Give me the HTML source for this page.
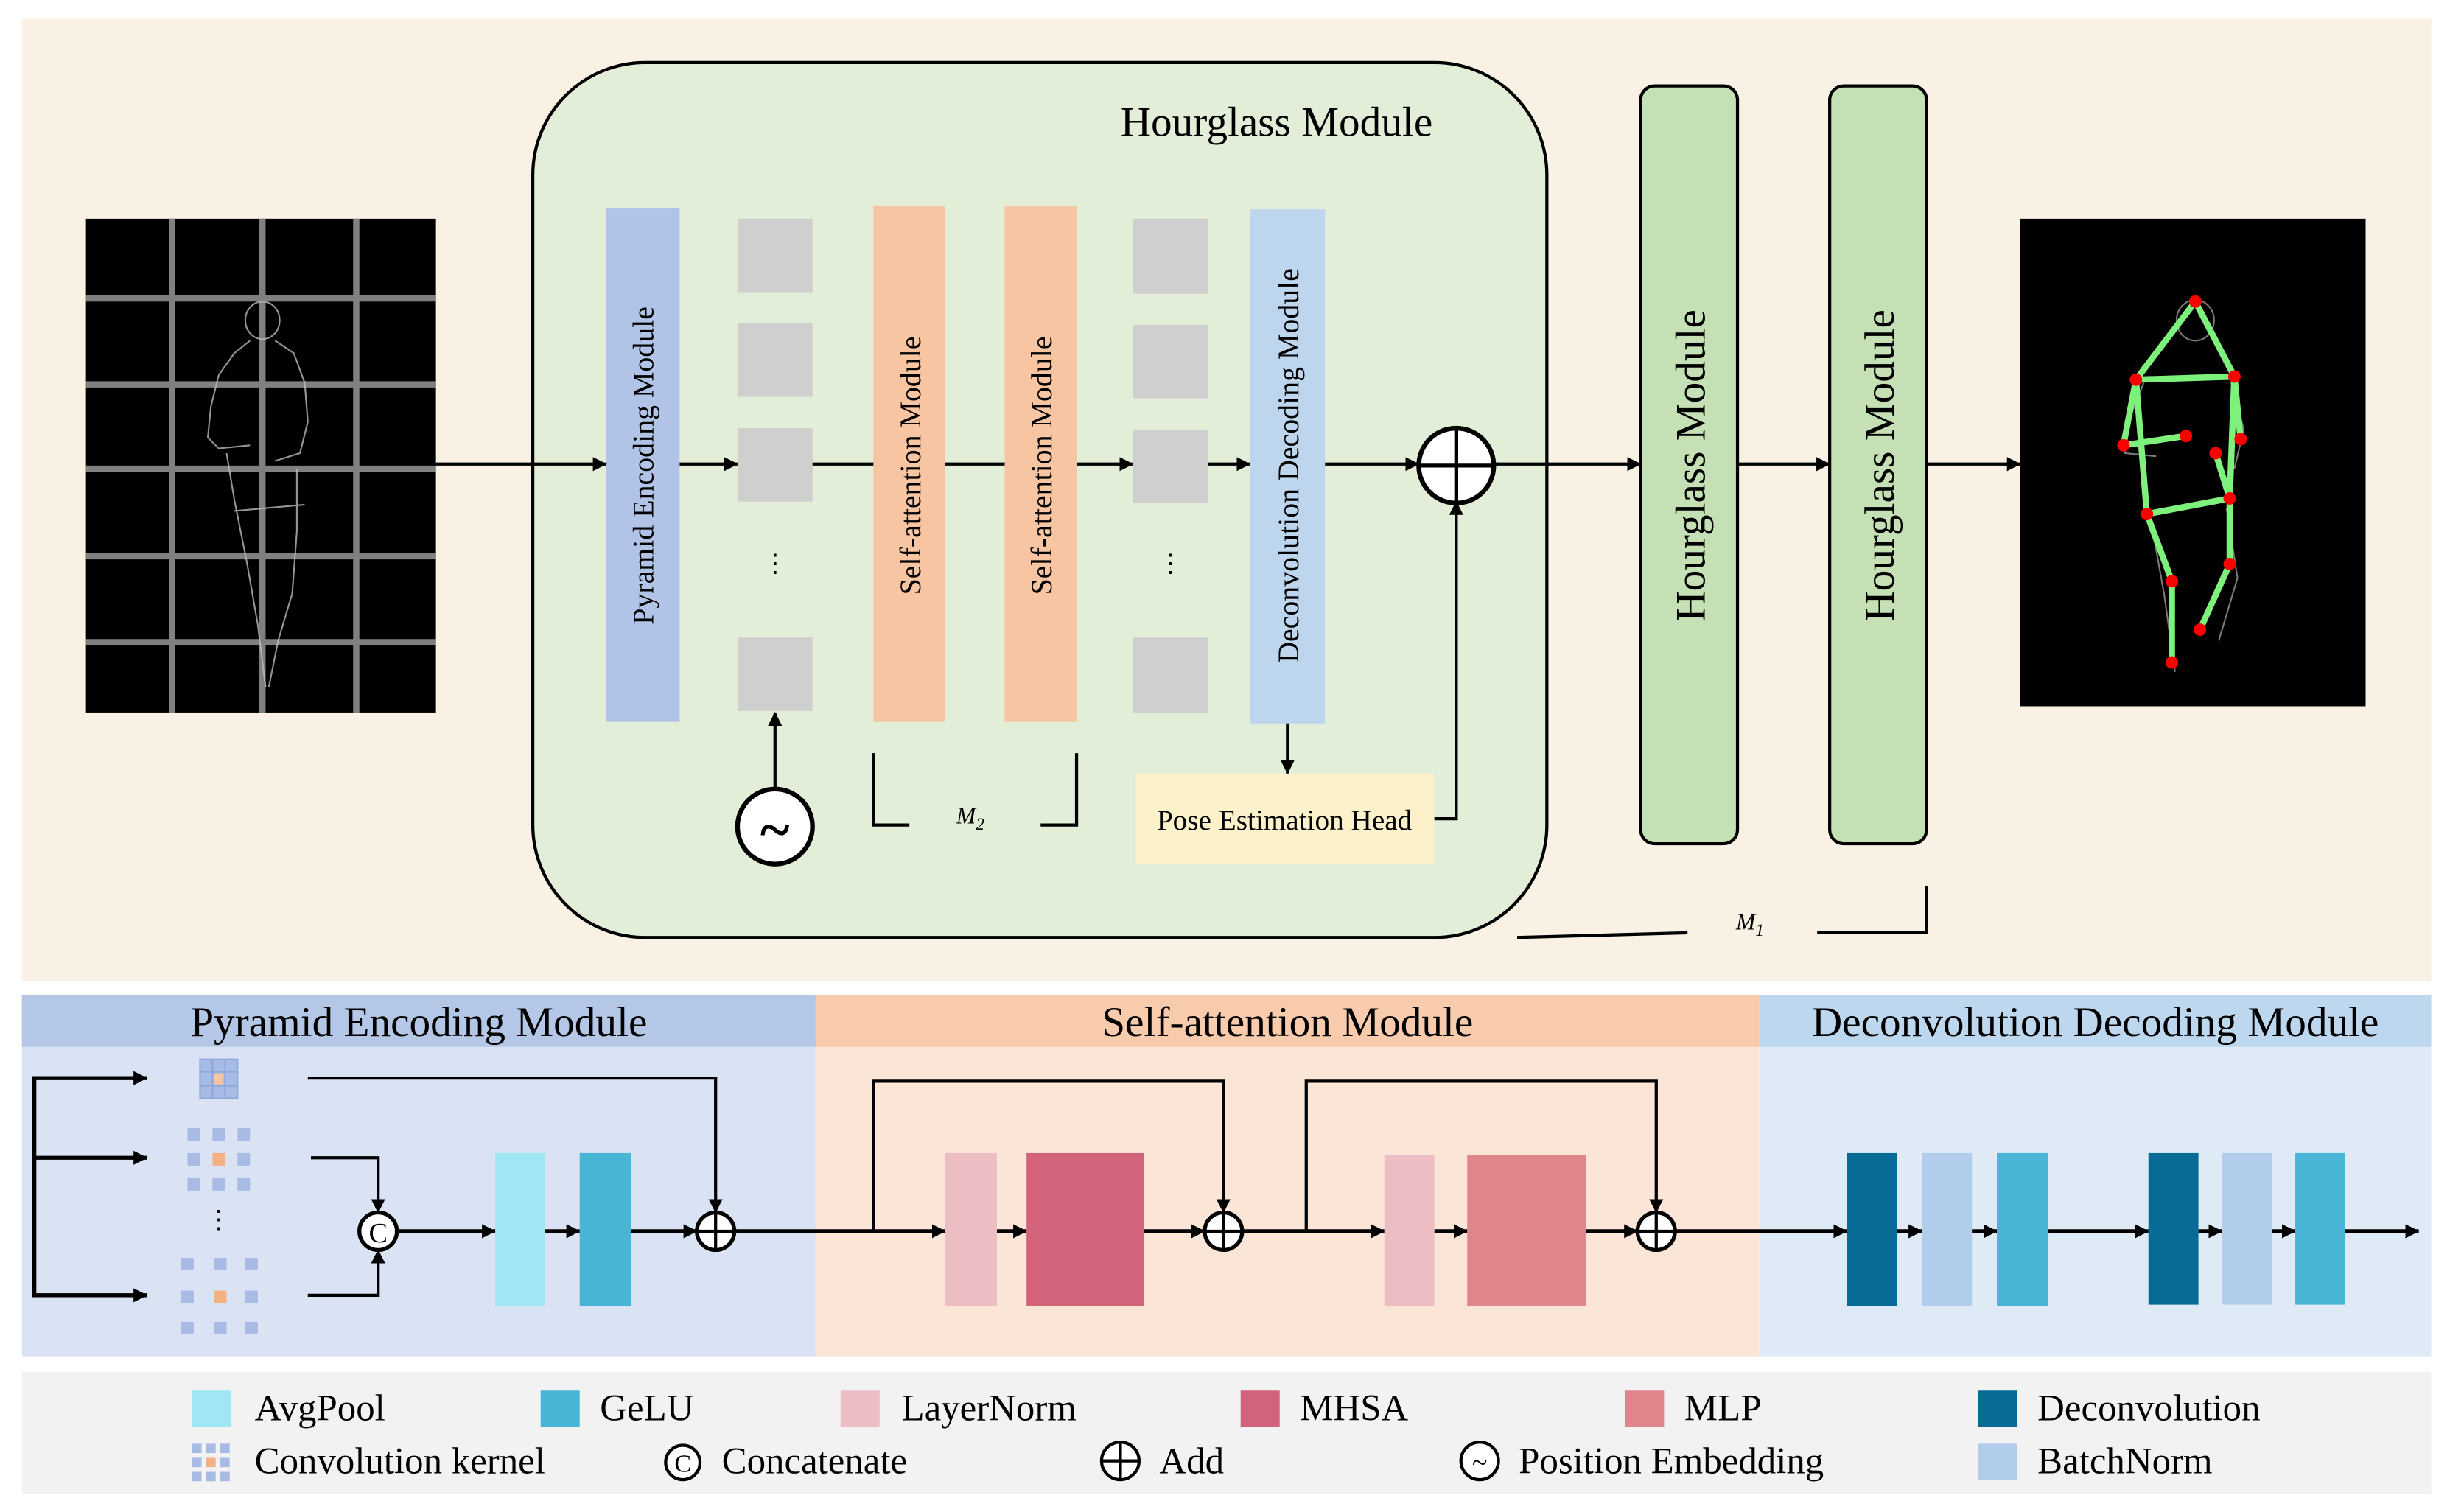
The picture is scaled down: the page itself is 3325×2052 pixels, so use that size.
<!DOCTYPE html>
<html><head><meta charset="utf-8"><style>
html,body{margin:0;padding:0;background:#fff;}
svg{display:block;}
text{font-family:"Liberation Serif",serif;fill:#000;}
</style></head><body>
<svg width="3325" height="2052" viewBox="0 0 1568 967.7" preserveAspectRatio="none" xmlns="http://www.w3.org/2000/svg">
<defs>
<marker id="a" viewBox="0 0 10 10" refX="9.5" refY="5" markerWidth="9" markerHeight="9" orient="auto" markerUnits="userSpaceOnUse"><path d="M0,0 L10,5 L0,10 z" fill="#000"/></marker>
</defs>
<rect width="1568" height="968" fill="#fff"/>
<rect x="14" y="12" width="1542" height="616" fill="#f9f1e4"/>
<rect x="55" y="140" width="224" height="316" fill="#000"/>
<g stroke="#808080" stroke-width="4">
<line x1="110" y1="140" x2="110" y2="456"/><line x1="168" y1="140" x2="168" y2="456"/><line x1="228" y1="140" x2="228" y2="456"/>
<line x1="55" y1="191" x2="279" y2="191"/><line x1="55" y1="246" x2="279" y2="246"/><line x1="55" y1="300" x2="279" y2="300"/><line x1="55" y1="356" x2="279" y2="356"/><line x1="55" y1="411" x2="279" y2="411"/>
</g>
<g stroke="#bbb" stroke-width="1" fill="none" opacity="0.8">
<ellipse cx="168" cy="205" rx="11" ry="12"/>
<path d="M160,218 L150,226 L140,240 L135,260 L133,280 L140,287 L160,285"/>
<path d="M176,218 L188,226 L195,245 L197,270 L192,290 L176,295"/>
<path d="M145,290 L150,320 L158,360 L165,400 L170,440"/>
<path d="M190,300 L190,340 L187,380 L178,410 L172,440"/>
<path d="M150,327 L195,323"/>
</g>
<rect x="341" y="40" width="649" height="560" rx="72" fill="#e2eed8" stroke="#000" stroke-width="2"/>
<text x="817" y="87" font-size="27" text-anchor="middle">Hourglass Module</text>
<rect x="388" y="133" width="47" height="329" fill="#b1c4e7"/>
<text transform="translate(418,298) rotate(-90)" font-size="18.8" text-anchor="middle">Pyramid Encoding Module</text>
<g fill="#d0cfd0">
<rect x="472" y="140" width="48" height="47"/><rect x="472" y="207" width="48" height="47"/><rect x="472" y="274" width="48" height="47"/><rect x="472" y="408" width="48" height="47"/>
<rect x="725" y="140" width="48" height="48"/><rect x="725" y="208" width="48" height="47"/><rect x="725" y="275" width="48" height="47"/><rect x="725" y="408" width="48" height="48"/>
</g>
<text x="496" y="366" font-size="16" text-anchor="middle">⋮</text>
<text x="749" y="366" font-size="16" text-anchor="middle">⋮</text>
<rect x="559" y="132" width="46" height="330" fill="#f8c5a3"/>
<rect x="643" y="132" width="46" height="330" fill="#f8c5a3"/>
<text transform="translate(589,298) rotate(-90)" font-size="18.8" text-anchor="middle">Self-attention Module</text>
<text transform="translate(673,298) rotate(-90)" font-size="18.8" text-anchor="middle">Self-attention Module</text>
<rect x="800" y="134" width="48" height="329" fill="#bdd6ee"/>
<text transform="translate(831,298) rotate(-90)" font-size="18.8" text-anchor="middle">Deconvolution Decoding Module</text>
<rect x="727" y="495" width="191" height="58" fill="#fdf1cc"/>
<text x="822" y="531" font-size="18.5" text-anchor="middle">Pose Estimation Head</text>
<g stroke="#000" stroke-width="2" fill="none">
<line x1="279" y1="297" x2="388" y2="297" marker-end="url(#a)"/>
<line x1="435" y1="297" x2="472" y2="297" marker-end="url(#a)"/>
<line x1="520" y1="297" x2="559" y2="297"/>
<line x1="605" y1="297" x2="643" y2="297"/>
<line x1="689" y1="297" x2="725" y2="297" marker-end="url(#a)"/>
<line x1="773" y1="297" x2="800" y2="297" marker-end="url(#a)"/>
<line x1="848" y1="297" x2="908" y2="297" marker-end="url(#a)"/>
<line x1="956" y1="297" x2="1050" y2="297" marker-end="url(#a)"/>
<line x1="1112" y1="297" x2="1171" y2="297" marker-end="url(#a)"/>
<line x1="1233" y1="297" x2="1293" y2="297" marker-end="url(#a)"/>
<line x1="496" y1="505" x2="496" y2="456" marker-end="url(#a)"/>
<line x1="824" y1="463" x2="824" y2="495" marker-end="url(#a)"/>
<polyline points="918,524 932,524 932,321" marker-end="url(#a)"/>
<polyline points="559,482 559,528 582,528"/>
<polyline points="689,482 689,528 666,528"/>
<polyline points="971,600 1080,597"/>
<polyline points="1163,597 1233,597 1233,567"/>
</g>
<circle cx="932" cy="298" r="24" fill="#fff" stroke="#000" stroke-width="3"/>
<line x1="908" y1="298" x2="956" y2="298" stroke="#000" stroke-width="2.5"/><line x1="932" y1="274" x2="932" y2="322" stroke="#000" stroke-width="2.5"/>
<circle cx="496" cy="529" r="24" fill="#fff" stroke="#000" stroke-width="3"/>
<text x="496" y="543" font-size="36" text-anchor="middle" font-weight="bold">~</text>
<text x="612" y="527" font-size="15" font-style="italic">M<tspan font-size="11" dy="4">2</tspan></text>
<text x="1111" y="595" font-size="15" font-style="italic">M<tspan font-size="11" dy="4">1</tspan></text>
<rect x="1050" y="55" width="62" height="485" rx="9" fill="#c5e0b4" stroke="#000" stroke-width="2"/>
<rect x="1171" y="55" width="62" height="485" rx="9" fill="#c5e0b4" stroke="#000" stroke-width="2"/>
<text transform="translate(1091,298) rotate(-90)" font-size="27" text-anchor="middle">Hourglass Module</text>
<text transform="translate(1212,298) rotate(-90)" font-size="27" text-anchor="middle">Hourglass Module</text>
<rect x="1293" y="140" width="221" height="312" fill="#000"/>
<g stroke="#999" stroke-width="1" fill="none" opacity="0.8">
<ellipse cx="1405" cy="205" rx="12" ry="13"/>
<path d="M1372,245 L1362,270 L1360,290 L1380,292"/>
<path d="M1428,245 L1436,275 L1430,300"/>
<path d="M1376,330 L1385,380 L1392,430"/><path d="M1425,325 L1432,370 L1420,410"/>
</g>
<g stroke="#7ef07c" stroke-width="4" fill="none" stroke-linecap="round">
<polyline points="1367,243 1405,193 1430,241 1367,243"/>
<polyline points="1367,243 1359,285 1399,279"/>
<polyline points="1430,241 1434,281"/>
<polyline points="1430,241 1427,319 1374,329 1367,243"/>
<polyline points="1427,319 1418,290"/>
<polyline points="1374,329 1390,372 1390,424"/>
<polyline points="1427,319 1427,361 1408,403"/>
</g>
<g fill="#f00">
<circle cx="1405" cy="193" r="4"/><circle cx="1367" cy="243" r="4"/><circle cx="1430" cy="241" r="4"/><circle cx="1359" cy="285" r="4"/><circle cx="1434" cy="281" r="4"/><circle cx="1399" cy="279" r="4"/><circle cx="1418" cy="290" r="4"/><circle cx="1374" cy="329" r="4"/><circle cx="1427" cy="319" r="4"/><circle cx="1390" cy="372" r="4"/><circle cx="1427" cy="361" r="4"/><circle cx="1390" cy="424" r="4"/><circle cx="1408" cy="403" r="4"/>
</g>
<rect x="14" y="637" width="508" height="231" fill="#dae3f3"/>
<rect x="14" y="637" width="508" height="33" fill="#b4c7e7"/>
<rect x="522" y="637" width="604" height="231" fill="#fbe5d6"/>
<rect x="522" y="637" width="604" height="33" fill="#f8cbad"/>
<rect x="1126" y="637" width="430" height="231" fill="#deebf7"/>
<rect x="1126" y="637" width="430" height="33" fill="#bdd7ee"/>
<text x="268" y="663" font-size="27" text-anchor="middle">Pyramid Encoding Module</text>
<text x="824" y="663" font-size="27" text-anchor="middle">Self-attention Module</text>
<text x="1341" y="663" font-size="27" text-anchor="middle">Deconvolution Decoding Module</text>
<g fill="#a7bbe4" stroke="#8ea8dc" stroke-width="1">
<rect x="128" y="678" width="24" height="25"/>
</g>
<g stroke="#8ea8dc" stroke-width="1"><line x1="136" y1="678" x2="136" y2="703"/><line x1="144" y1="678" x2="144" y2="703"/><line x1="128" y1="686" x2="152" y2="686"/><line x1="128" y1="695" x2="152" y2="695"/></g>
<rect x="137" y="687" width="6" height="7" fill="#f8c5a3"/>
<g fill="#a7bbe4">
<rect x="120" y="722" width="8" height="8"/><rect x="136" y="722" width="8" height="8"/><rect x="152" y="722" width="8" height="8"/>
<rect x="120" y="738" width="8" height="8"/><rect x="152" y="738" width="8" height="8"/>
<rect x="120" y="754" width="8" height="8"/><rect x="136" y="754" width="8" height="8"/><rect x="152" y="754" width="8" height="8"/>
<rect x="116" y="805" width="8" height="8"/><rect x="137" y="805" width="8" height="8"/><rect x="157" y="805" width="8" height="8"/>
<rect x="116" y="826" width="8" height="8"/><rect x="157" y="826" width="8" height="8"/>
<rect x="116" y="846" width="8" height="8"/><rect x="137" y="846" width="8" height="8"/><rect x="157" y="846" width="8" height="8"/>
</g>
<rect x="136" y="738" width="8" height="8" fill="#f4b183"/><rect x="137" y="826" width="8" height="8" fill="#f4b183"/>
<text x="140" y="786" font-size="16" text-anchor="middle">⋮</text>
<g stroke="#000" stroke-width="2.5" fill="none">
<polyline points="94,690 22,690 22,829 94,829"/>
<line x1="22" y1="690" x2="94" y2="690" marker-end="url(#a)"/>
<line x1="22" y1="741" x2="94" y2="741" marker-end="url(#a)"/>
<line x1="22" y1="829" x2="94" y2="829" marker-end="url(#a)"/>
<polyline points="197,690 458,690 458,776" stroke-width="2" marker-end="url(#a)"/>
<polyline points="199,741 242,741 242,776" stroke-width="2" marker-end="url(#a)"/>
<polyline points="197,829 242,829 242,800" stroke-width="2" marker-end="url(#a)"/>
<line x1="254" y1="788" x2="317" y2="788" marker-end="url(#a)"/>
<line x1="349" y1="788" x2="371" y2="788" marker-end="url(#a)"/>
<line x1="404" y1="788" x2="446" y2="788" marker-end="url(#a)"/>
<line x1="470" y1="788" x2="605" y2="788" marker-end="url(#a)"/>
<line x1="638" y1="788" x2="657" y2="788" marker-end="url(#a)"/>
<line x1="732" y1="788" x2="771" y2="788" marker-end="url(#a)"/>
<line x1="795" y1="788" x2="886" y2="788" marker-end="url(#a)"/>
<line x1="918" y1="788" x2="939" y2="788" marker-end="url(#a)"/>
<line x1="1015" y1="788" x2="1048" y2="788" marker-end="url(#a)"/>
<line x1="1072" y1="788" x2="1182" y2="788" marker-end="url(#a)"/>
<line x1="1214" y1="788" x2="1230" y2="788" marker-end="url(#a)"/>
<line x1="1262" y1="788" x2="1278" y2="788" marker-end="url(#a)"/>
<line x1="1311" y1="788" x2="1375" y2="788" marker-end="url(#a)"/>
<line x1="1407" y1="788" x2="1422" y2="788" marker-end="url(#a)"/>
<line x1="1454" y1="788" x2="1469" y2="788" marker-end="url(#a)"/>
<line x1="1501" y1="788" x2="1548" y2="788" marker-end="url(#a)"/>
<polyline points="559,788 559,692 783,692 783,776" stroke-width="2" marker-end="url(#a)"/>
<polyline points="836,788 836,692 1060,692 1060,776" stroke-width="2" marker-end="url(#a)"/>
</g>
<circle cx="242" cy="788" r="12" fill="#fff" stroke="#000" stroke-width="2.5"/>
<text x="242" y="795" font-size="18" text-anchor="middle" font-family="Liberation Sans">C</text>
<g fill="#fff" stroke="#000" stroke-width="2.5">
<circle cx="458" cy="788" r="12"/><circle cx="783" cy="788" r="12"/><circle cx="1060" cy="788" r="12"/>
</g>
<g stroke="#000" stroke-width="2">
<line x1="446" y1="788" x2="470" y2="788"/><line x1="458" y1="776" x2="458" y2="800"/>
<line x1="771" y1="788" x2="795" y2="788"/><line x1="783" y1="776" x2="783" y2="800"/>
<line x1="1048" y1="788" x2="1072" y2="788"/><line x1="1060" y1="776" x2="1060" y2="800"/>
</g>
<rect x="317" y="738" width="32" height="98" fill="#a0e6f4"/>
<rect x="371" y="738" width="33" height="98" fill="#48b4d6"/>
<rect x="605" y="738" width="33" height="98" fill="#ecbec4"/>
<rect x="657" y="738" width="75" height="98" fill="#d2637b"/>
<rect x="886" y="739" width="32" height="97" fill="#ecbec4"/>
<rect x="939" y="739" width="76" height="97" fill="#df868c"/>
<rect x="1182" y="738" width="32" height="98" fill="#066c96"/>
<rect x="1230" y="738" width="32" height="98" fill="#b2cceb"/>
<rect x="1278" y="738" width="33" height="98" fill="#48b4d6"/>
<rect x="1375" y="738" width="32" height="97" fill="#066c96"/>
<rect x="1422" y="738" width="32" height="97" fill="#b2cceb"/>
<rect x="1469" y="738" width="32" height="97" fill="#48b4d6"/>
<rect x="14" y="878" width="1542" height="78" fill="#f2f2f2"/>
<g font-size="24">
<rect x="123" y="890" width="25" height="23" fill="#a0e6f4"/><text x="163" y="909">AvgPool</text>
<rect x="346" y="890" width="25" height="23" fill="#48b4d6"/><text x="384" y="909">GeLU</text>
<rect x="538" y="890" width="25" height="23" fill="#ecbec4"/><text x="577" y="909">LayerNorm</text>
<rect x="794" y="890" width="25" height="23" fill="#d2637b"/><text x="832" y="909">MHSA</text>
<rect x="1040" y="890" width="25" height="23" fill="#df868c"/><text x="1078" y="909">MLP</text>
<rect x="1266" y="890" width="25" height="23" fill="#066c96"/><text x="1304" y="909">Deconvolution</text>
<g fill="#a7bbe4"><rect x="123" y="924" width="6" height="6"/><rect x="132" y="924" width="6" height="6"/><rect x="141" y="924" width="6" height="6"/><rect x="123" y="933" width="6" height="6"/><rect x="141" y="933" width="6" height="6"/><rect x="123" y="942" width="6" height="6"/><rect x="132" y="942" width="6" height="6"/><rect x="141" y="942" width="6" height="6"/></g><rect x="132" y="933" width="6" height="6" fill="#f4b183"/>
<text x="163" y="943">Convolution kernel</text>
<circle cx="437" cy="936" r="11" fill="#fff" stroke="#000" stroke-width="2"/><text x="437" y="942" font-size="16" text-anchor="middle" font-family="Liberation Sans">C</text>
<text x="462" y="943">Concatenate</text>
<circle cx="717" cy="935" r="12" fill="#fff" stroke="#000" stroke-width="2"/><line x1="705" y1="935" x2="729" y2="935" stroke="#000" stroke-width="2"/><line x1="717" y1="923" x2="717" y2="947" stroke="#000" stroke-width="2"/>
<text x="742" y="943">Add</text>
<circle cx="947" cy="935" r="12" fill="#fff" stroke="#000" stroke-width="2"/><text x="947" y="942" font-size="18" text-anchor="middle">~</text>
<text x="972" y="943">Position Embedding</text>
<rect x="1266" y="924" width="25" height="23" fill="#b2cceb"/><text x="1304" y="943">BatchNorm</text>
</g>
</svg>
</body></html>
